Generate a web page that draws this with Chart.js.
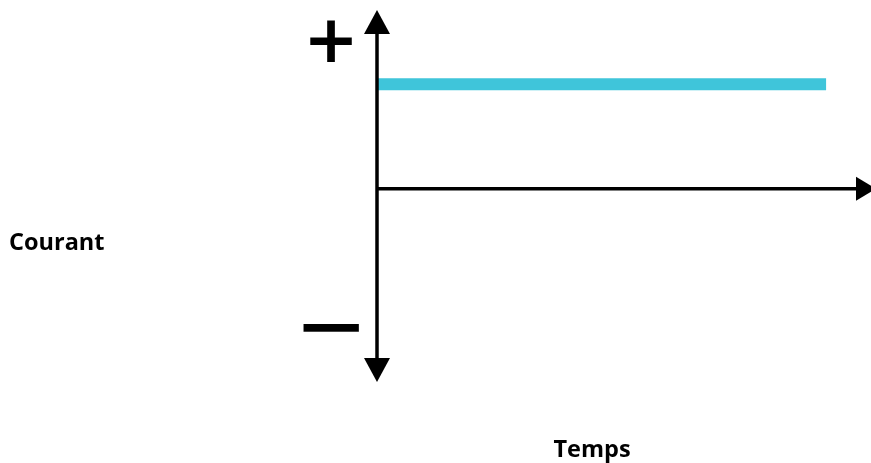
<!DOCTYPE html>
<html>
<head>
<meta charset="utf-8">
<script src="https://cdn.jsdelivr.net/npm/chart.js@4/dist/chart.umd.min.js"></script>
<style>
html,body{margin:0;padding:0;background:#fff;}
#wrap{width:871px;height:463px;position:relative;}
</style>
</head>
<body>
<div id="wrap"><canvas id="c"></canvas></div>
<script>
// Data
const temps = [0, 10];
const courant = [1, 1];
const axisLabels = { x: 'Temps', y: 'Courant' };
const signLabels = { plus: '+', minus: '\u2212' };

const points = temps.map((t, i) => ({ x: t, y: courant[i] }));

function drawGlyphInBox(ctx, text, font, box) {
  ctx.save();
  ctx.font = font;
  ctx.textAlign = 'left';
  ctx.textBaseline = 'alphabetic';
  const m = ctx.measureText(text);
  const gw = m.actualBoundingBoxLeft + m.actualBoundingBoxRight;
  const gh = m.actualBoundingBoxAscent + m.actualBoundingBoxDescent;
  const sx = box.w / gw, sy = box.h / gh;
  ctx.translate(box.x, box.y);
  ctx.scale(sx, sy);
  ctx.fillStyle = '#000';
  ctx.fillText(text, m.actualBoundingBoxLeft, m.actualBoundingBoxAscent);
  ctx.restore();
}

const axesPlugin = {
  id: 'arrowAxes',
  afterDatasetsDraw(chart) {
    const { ctx, chartArea, scales } = chart;
    const xs = scales.x, ys = scales.y;
    const x0 = xs.getPixelForValue(0);
    const y0 = ys.getPixelForValue(0);
    ctx.save();
    ctx.strokeStyle = '#000';
    ctx.fillStyle = '#000';
    ctx.lineWidth = 3.5;
    // vertical axis
    const ah = 24, aw = 13;
    ctx.beginPath();
    ctx.moveTo(x0, chartArea.top + ah - 2);
    ctx.lineTo(x0, chartArea.bottom - ah + 2);
    ctx.stroke();
    // top arrow
    ctx.beginPath();
    ctx.moveTo(x0, chartArea.top);
    ctx.lineTo(x0 - aw, chartArea.top + ah);
    ctx.lineTo(x0 + aw, chartArea.top + ah);
    ctx.closePath();
    ctx.fill();
    // bottom arrow
    ctx.beginPath();
    ctx.moveTo(x0, chartArea.bottom);
    ctx.lineTo(x0 - aw, chartArea.bottom - ah);
    ctx.lineTo(x0 + aw, chartArea.bottom - ah);
    ctx.closePath();
    ctx.fill();
    // horizontal axis
    const tipX = chartArea.right + 5;
    const baseX = chartArea.right - 15;
    ctx.beginPath();
    ctx.moveTo(x0, y0);
    ctx.lineTo(baseX + 2, y0);
    ctx.stroke();
    ctx.beginPath();
    ctx.moveTo(tipX, y0);
    ctx.lineTo(baseX, y0 - 12);
    ctx.lineTo(baseX, y0 + 12);
    ctx.closePath();
    ctx.fill();

    // + and − signs
    drawGlyphInBox(ctx, signLabels.plus, 'bold 60px "DejaVu Sans"', { x: 310, y: 19, w: 42, h: 43 });
    drawGlyphInBox(ctx, signLabels.minus, 'bold 60px "DejaVu Sans"', { x: 303, y: 323, w: 56, h: 9 });

    // axis labels
    ctx.fillStyle = '#000';
    ctx.font = 'bold 23.5px "Open Sans"';
    ctx.textBaseline = 'middle';
    ctx.textAlign = 'left';
    ctx.fillText(axisLabels.y, 9, 243);
    ctx.textAlign = 'center';
    ctx.fillText(axisLabels.x, 592, 450);
    ctx.restore();
  }
};

new Chart(document.getElementById('c'), {
  type: 'line',
  data: {
    datasets: [{
      data: points,
      borderColor: '#3FC5DA',
      borderWidth: 12,
      borderCapStyle: 'butt',
      pointRadius: 0,
      fill: false,
      tension: 0
    }]
  },
  options: {
    responsive: true,
    maintainAspectRatio: false,
    animation: false,
    layout: { padding: { left: 377, top: 10, right: 0, bottom: 81 } },
    plugins: { legend: { display: false }, tooltip: { enabled: false } },
    scales: {
      x: { type: 'linear', min: 0, max: 11, display: false },
      y: { type: 'linear', min: -1.85, max: 1.71, display: false }
    }
  },
  plugins: [axesPlugin]
});
</script>
</body>
</html>
